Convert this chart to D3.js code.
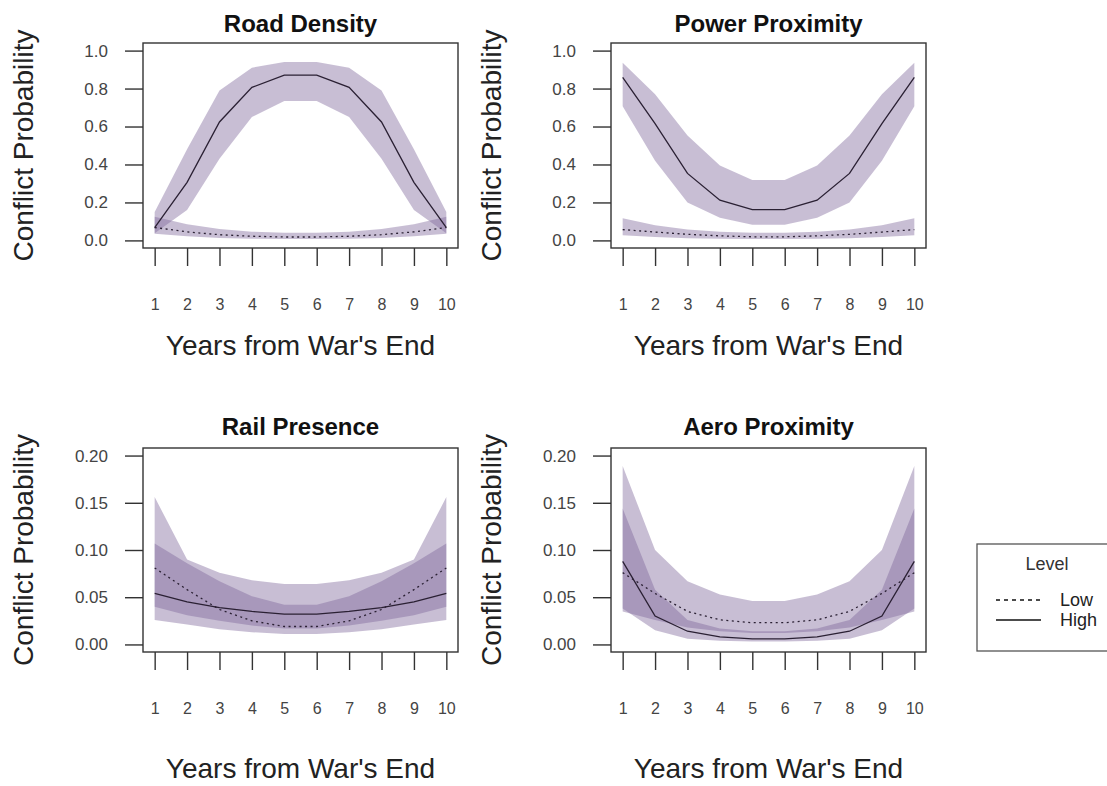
<!DOCTYPE html>
<html>
<head>
<meta charset="utf-8">
<script src="https://cdn.jsdelivr.net/npm/d3@7"></script>
<style>
  body { margin: 0; background: #fff; }
  svg { display: block; font-family: "Liberation Sans", Arial, Helvetica, sans-serif; }
</style>
</head>
<body>
<svg id="chart" width="1107" height="786"></svg>
<script>
// ---------- DATA ----------
const years = [1, 2, 3, 4, 5, 6, 7, 8, 9, 10];
const panelTitles = ["Road Density", "Power Proximity", "Rail Presence", "Aero Proximity"];
const yTicksTop = [0, 0.2, 0.4, 0.6, 0.8, 1.0];
const yTicksBottom = [0, 0.05, 0.10, 0.15, 0.20];
const legendLabels = ["Low", "High"];

// Road Density
const roadHighMean = [0.067, 0.306, 0.624, 0.806, 0.871, 0.871, 0.806, 0.624, 0.306, 0.067];
const roadHighLo   = [0.038, 0.160, 0.430, 0.650, 0.735, 0.735, 0.650, 0.430, 0.160, 0.038];
const roadHighHi   = [0.150, 0.480, 0.790, 0.910, 0.940, 0.940, 0.910, 0.790, 0.480, 0.150];
const roadLowMean  = [0.068, 0.045, 0.030, 0.022, 0.018, 0.018, 0.022, 0.030, 0.045, 0.068];
const roadLowLo    = [0.035, 0.022, 0.013, 0.009, 0.007, 0.007, 0.009, 0.013, 0.022, 0.035];
const roadLowHi    = [0.125, 0.085, 0.060, 0.046, 0.041, 0.041, 0.046, 0.060, 0.085, 0.125];

// Power Proximity
const powerHighMean = [0.859, 0.615, 0.353, 0.212, 0.162, 0.162, 0.212, 0.353, 0.615, 0.859];
const powerHighLo   = [0.707, 0.420, 0.200, 0.120, 0.083, 0.083, 0.120, 0.200, 0.420, 0.707];
const powerHighHi   = [0.936, 0.770, 0.553, 0.394, 0.318, 0.318, 0.394, 0.553, 0.770, 0.936];
const powerLowMean  = [0.057, 0.044, 0.032, 0.024, 0.019, 0.019, 0.024, 0.032, 0.044, 0.057];
const powerLowLo    = [0.027, 0.018, 0.012, 0.009, 0.008, 0.008, 0.009, 0.012, 0.018, 0.027];
const powerLowHi    = [0.117, 0.080, 0.058, 0.046, 0.040, 0.040, 0.046, 0.058, 0.080, 0.117];

// Rail Presence
const railHighMean = [0.054, 0.045, 0.039, 0.035, 0.032, 0.032, 0.035, 0.039, 0.045, 0.054];
const railHighLo   = [0.040, 0.031, 0.025, 0.020, 0.017, 0.017, 0.020, 0.025, 0.031, 0.040];
const railHighHi   = [0.107, 0.086, 0.067, 0.051, 0.042, 0.042, 0.051, 0.067, 0.086, 0.107];
const railLowMean  = [0.081, 0.058, 0.037, 0.025, 0.019, 0.019, 0.025, 0.037, 0.058, 0.081];
const railLowLo    = [0.026, 0.021, 0.016, 0.013, 0.011, 0.011, 0.013, 0.016, 0.021, 0.026];
const railLowHi    = [0.156, 0.090, 0.076, 0.068, 0.064, 0.064, 0.068, 0.076, 0.090, 0.156];

// Aero Proximity
const aeroHighMean = [0.088, 0.030, 0.014, 0.008, 0.006, 0.006, 0.008, 0.014, 0.030, 0.088];
const aeroHighLo   = [0.038, 0.015, 0.006, 0.004, 0.003, 0.003, 0.004, 0.006, 0.015, 0.038];
const aeroHighHi   = [0.144, 0.058, 0.026, 0.017, 0.014, 0.014, 0.017, 0.026, 0.058, 0.144];
const aeroLowMean  = [0.076, 0.054, 0.035, 0.026, 0.023, 0.023, 0.026, 0.035, 0.054, 0.076];
const aeroLowLo    = [0.035, 0.026, 0.018, 0.014, 0.012, 0.012, 0.014, 0.018, 0.026, 0.035];
const aeroLowHi    = [0.189, 0.100, 0.067, 0.053, 0.046, 0.046, 0.053, 0.067, 0.100, 0.189];

// ---------- LAYOUT ----------
const svg = d3.select("#chart");
const bandColor = "rgb(124,100,153)";
const bandOpacity = 0.42;
const lineColor = "#2a2033";
const axisColor = "#333";

const panels = [
  { title: panelTitles[0], col: 0, row: 0, yTicks: yTicksTop, fmt: ".1f",
    hm: roadHighMean, hl: roadHighLo, hh: roadHighHi, lm: roadLowMean, ll: roadLowLo, lh: roadLowHi },
  { title: panelTitles[1], col: 1, row: 0, yTicks: yTicksTop, fmt: ".1f",
    hm: powerHighMean, hl: powerHighLo, hh: powerHighHi, lm: powerLowMean, ll: powerLowLo, lh: powerLowHi },
  { title: panelTitles[2], col: 0, row: 1, yTicks: yTicksBottom, fmt: ".2f",
    hm: railHighMean, hl: railHighLo, hh: railHighHi, lm: railLowMean, ll: railLowLo, lh: railLowHi },
  { title: panelTitles[3], col: 1, row: 1, yTicks: yTicksBottom, fmt: ".2f",
    hm: aeroHighMean, hl: aeroHighLo, hh: aeroHighHi, lm: aeroLowMean, ll: aeroLowLo, lh: aeroLowHi }
];

const colLeft = [143, 611];
const boxW = 315;
const rowTop = [43, 448];
const boxH = [205, 204];
const titleBase = [32, 435];
const xTitleBase = [355, 778];

panels.forEach(p => {
  const x0 = colLeft[p.col], y0 = rowTop[p.row], h = boxH[p.row];
  const yMax = d3.max(p.yTicks);
  const pad = yMax * 0.04;
  const x = d3.scaleLinear().domain([1 - 0.36, 10 + 0.36]).range([x0, x0 + boxW]);
  const y = d3.scaleLinear().domain([-pad, yMax + pad]).range([y0 + h, y0]);

  const g = svg.append("g");

  const area = (lo, hi) => d3.area()
    .x((d, i) => x(years[i]))
    .y0((d, i) => y(lo[i]))
    .y1((d, i) => y(hi[i]))(years);
  const line = vals => d3.line()
    .x((d, i) => x(years[i]))
    .y((d, i) => y(vals[i]))(years);

  g.append("path").attr("d", area(p.ll, p.lh))
    .attr("fill", bandColor).attr("fill-opacity", bandOpacity);
  g.append("path").attr("d", area(p.hl, p.hh))
    .attr("fill", bandColor).attr("fill-opacity", bandOpacity);

  g.append("path").attr("d", line(p.lm))
    .attr("fill", "none").attr("stroke", lineColor).attr("stroke-width", 1.3)
    .attr("stroke-dasharray", "2,3.5");
  g.append("path").attr("d", line(p.hm))
    .attr("fill", "none").attr("stroke", lineColor).attr("stroke-width", 1.3);

  // box
  g.append("rect").attr("x", x0).attr("y", y0).attr("width", boxW).attr("height", h)
    .attr("fill", "none").attr("stroke", axisColor).attr("stroke-width", 1.4);

  // y axis
  const ya = g.append("g").attr("transform", `translate(${x0},0)`)
    .call(d3.axisLeft(y).tickValues(p.yTicks).tickFormat(d3.format(p.fmt)).tickSize(18).tickPadding(17));
  ya.select(".domain").remove();
  ya.selectAll("line").attr("stroke", axisColor).attr("stroke-width", 1.4);
  ya.selectAll("text").attr("font-size", 17).attr("fill", "#444").attr("font-family", null);

  // x axis
  const xa = g.append("g").attr("transform", `translate(0,${y0 + h})`)
    .call(d3.axisBottom(x).tickValues(years).tickFormat(d3.format("d")).tickSize(18).tickPadding(33));
  xa.select(".domain").remove();
  xa.selectAll("line").attr("stroke", axisColor).attr("stroke-width", 1.4);
  xa.selectAll("text").attr("font-size", 16).attr("fill", "#444").attr("font-family", null);

  // titles
  g.append("text").attr("x", x0 + boxW / 2).attr("y", titleBase[p.row])
    .attr("text-anchor", "middle").attr("font-size", 24).attr("font-weight", "bold")
    .attr("fill", "#111").text(p.title);
  g.append("text").attr("x", x0 + boxW / 2).attr("y", xTitleBase[p.row])
    .attr("text-anchor", "middle").attr("font-size", 28).attr("fill", "#222")
    .text("Years from War's End");
  g.append("text")
    .attr("transform", `translate(${x0 - 110},${y0 + h / 2}) rotate(-90)`)
    .attr("text-anchor", "middle").attr("font-size", 28).attr("fill", "#222")
    .text("Conflict Probability");
});

// legend
const lg = svg.append("g");
lg.append("rect").attr("x", 977).attr("y", 544).attr("width", 150).attr("height", 107)
  .attr("fill", "#fff").attr("stroke", "#555").attr("stroke-width", 1.3);
lg.append("text").attr("x", 1047).attr("y", 570).attr("text-anchor", "middle")
  .attr("font-size", 18).attr("fill", "#333").text("Level");
legendLabels.forEach((lab, i) => {
  const ly = 600 + i * 20;
  lg.append("line").attr("x1", 996).attr("x2", 1041).attr("y1", ly).attr("y2", ly)
    .attr("stroke", "#111").attr("stroke-width", 1.6)
    .attr("stroke-dasharray", i === 0 ? "4,4" : null);
  lg.append("text").attr("x", 1060).attr("y", ly + 6).attr("font-size", 18)
    .attr("fill", "#222").text(lab);
});
</script>
</body>
</html>
